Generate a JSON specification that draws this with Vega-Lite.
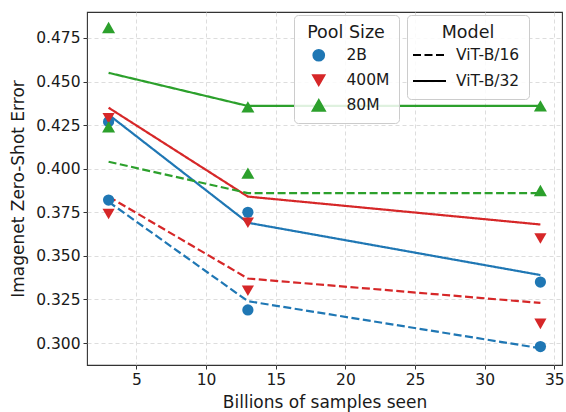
{
  "$schema": "https://vega.github.io/schema/vega-lite/v6.json",
  "width": 475,
  "height": 353,
  "autosize": {"type": "none"},
  "padding": {"left": 87, "top": 12, "right": 4, "bottom": 47},
  "background": "white",
  "config": {
    "font": "DejaVu Sans",
    "view": {"stroke": "#333", "strokeWidth": 1.1},
    "axis": {
      "domain": false,
      "grid": true,
      "gridColor": "#d9d9d9",
      "gridDash": [4, 3],
      "gridWidth": 0.9,
      "tickColor": "#333",
      "tickSize": 4,
      "labelFontSize": 15.5,
      "labelColor": "#1a1a1a",
      "titleFontSize": 17,
      "titleFontWeight": "normal",
      "titleColor": "#1a1a1a",
      "labelPadding": 3
    },
    "legend": {
      "orient": "none",
      "titleFontSize": 17.5,
      "titleFontWeight": "normal",
      "titleColor": "#1a1a1a",
      "labelFontSize": 15.5,
      "labelColor": "#1a1a1a",
      "strokeColor": "#cccccc",
      "fillColor": "rgba(255,255,255,0.85)",
      "cornerRadius": 4,
      "padding": 9,
      "rowPadding": 7,
      "titleAnchor": "middle",
      "titlePadding": 6
    }
  },
  "datasets": {
    "fits": [
      {"pool": "2B", "model": "ViT-B/32", "x": 3, "err": 0.431},
      {"pool": "2B", "model": "ViT-B/32", "x": 13, "err": 0.369},
      {"pool": "2B", "model": "ViT-B/32", "x": 34, "err": 0.339},
      {"pool": "2B", "model": "ViT-B/16", "x": 3, "err": 0.381},
      {"pool": "2B", "model": "ViT-B/16", "x": 13, "err": 0.324},
      {"pool": "2B", "model": "ViT-B/16", "x": 34, "err": 0.297},
      {"pool": "400M", "model": "ViT-B/32", "x": 3, "err": 0.435},
      {"pool": "400M", "model": "ViT-B/32", "x": 13, "err": 0.384},
      {"pool": "400M", "model": "ViT-B/32", "x": 34, "err": 0.368},
      {"pool": "400M", "model": "ViT-B/16", "x": 3, "err": 0.384},
      {"pool": "400M", "model": "ViT-B/16", "x": 13, "err": 0.337},
      {"pool": "400M", "model": "ViT-B/16", "x": 34, "err": 0.323},
      {"pool": "80M", "model": "ViT-B/32", "x": 3, "err": 0.455},
      {"pool": "80M", "model": "ViT-B/32", "x": 13, "err": 0.436},
      {"pool": "80M", "model": "ViT-B/32", "x": 34, "err": 0.436},
      {"pool": "80M", "model": "ViT-B/16", "x": 3, "err": 0.404},
      {"pool": "80M", "model": "ViT-B/16", "x": 13, "err": 0.386},
      {"pool": "80M", "model": "ViT-B/16", "x": 34, "err": 0.386}
    ],
    "points": [
      {"pool": "2B", "model": "ViT-B/32", "x": 3, "err": 0.427},
      {"pool": "2B", "model": "ViT-B/32", "x": 13, "err": 0.375},
      {"pool": "2B", "model": "ViT-B/32", "x": 34, "err": 0.335},
      {"pool": "2B", "model": "ViT-B/16", "x": 3, "err": 0.382},
      {"pool": "2B", "model": "ViT-B/16", "x": 13, "err": 0.319},
      {"pool": "2B", "model": "ViT-B/16", "x": 34, "err": 0.298},
      {"pool": "400M", "model": "ViT-B/32", "x": 3, "err": 0.429},
      {"pool": "400M", "model": "ViT-B/32", "x": 13, "err": 0.369},
      {"pool": "400M", "model": "ViT-B/32", "x": 34, "err": 0.360},
      {"pool": "400M", "model": "ViT-B/16", "x": 3, "err": 0.374},
      {"pool": "400M", "model": "ViT-B/16", "x": 13, "err": 0.330},
      {"pool": "400M", "model": "ViT-B/16", "x": 34, "err": 0.311},
      {"pool": "80M", "model": "ViT-B/32", "x": 3, "err": 0.481},
      {"pool": "80M", "model": "ViT-B/32", "x": 13, "err": 0.4355},
      {"pool": "80M", "model": "ViT-B/32", "x": 34, "err": 0.436},
      {"pool": "80M", "model": "ViT-B/16", "x": 3, "err": 0.424},
      {"pool": "80M", "model": "ViT-B/16", "x": 13, "err": 0.3975},
      {"pool": "80M", "model": "ViT-B/16", "x": 34, "err": 0.3875}
    ]
  },
  "layer": [
    {
      "data": {"name": "fits"},
      "mark": {"type": "line", "strokeWidth": 2.2},
      "encoding": {
        "x": {"field": "x", "type": "quantitative",
              "scale": {"domain": [1.45, 35.55], "nice": false, "zero": false},
              "axis": {"values": [5, 10, 15, 20, 25, 30, 35], "title": "Billions of samples seen", "titlePadding": 7}},
        "y": {"field": "err", "type": "quantitative",
              "scale": {"domain": [0.2874, 0.4899], "nice": false, "zero": false},
              "axis": {"values": [0.3, 0.325, 0.35, 0.375, 0.4, 0.425, 0.45, 0.475], "format": ".3f", "title": "Imagenet Zero-Shot Error", "titlePadding": 8}},
        "color": {"field": "pool", "type": "nominal",
                  "scale": {"domain": ["2B", "400M", "80M"], "range": ["#1f77b4", "#d62728", "#2ca02c"]}},
        "strokeDash": {"field": "model", "type": "nominal",
                       "scale": {"domain": ["ViT-B/16", "ViT-B/32"], "range": [[8, 3.5], [1, 0]]},
                       "legend": {"title": "Model", "legendX": 320, "legendY": 3, "symbolType": "stroke", "symbolStrokeColor": "black", "symbolStrokeWidth": 2, "symbolSize": 1089, "symbolOffset": -4, "labelOffset": 9, "rowPadding": -11, "titlePadding": -4}}
      }
    },
    {
      "data": {"name": "points"},
      "mark": {"type": "point", "filled": true, "opacity": 1},
      "encoding": {
        "x": {"field": "x", "type": "quantitative"},
        "y": {"field": "err", "type": "quantitative"},
        "color": {"field": "pool", "type": "nominal",
                  "legend": {"title": "Pool Size", "legendX": 207, "legendY": 3, "symbolSize": 130, "symbolOffset": 8, "labelOffset": 20, "symbolType": "circle"}},
        "shape": {"field": "pool", "type": "nominal",
                  "scale": {"domain": ["2B", "400M", "80M"], "range": ["circle", "triangle-down", "triangle-up"]},
                  "legend": {"title": "Pool Size", "legendX": 207, "legendY": 3, "symbolSize": 130, "symbolOffset": 8, "labelOffset": 20}},
        "size": {"field": "pool", "type": "nominal",
                 "scale": {"domain": ["2B", "400M", "80M"], "range": [126, 170, 170]},
                 "legend": null}
      }
    }
  ]
}
